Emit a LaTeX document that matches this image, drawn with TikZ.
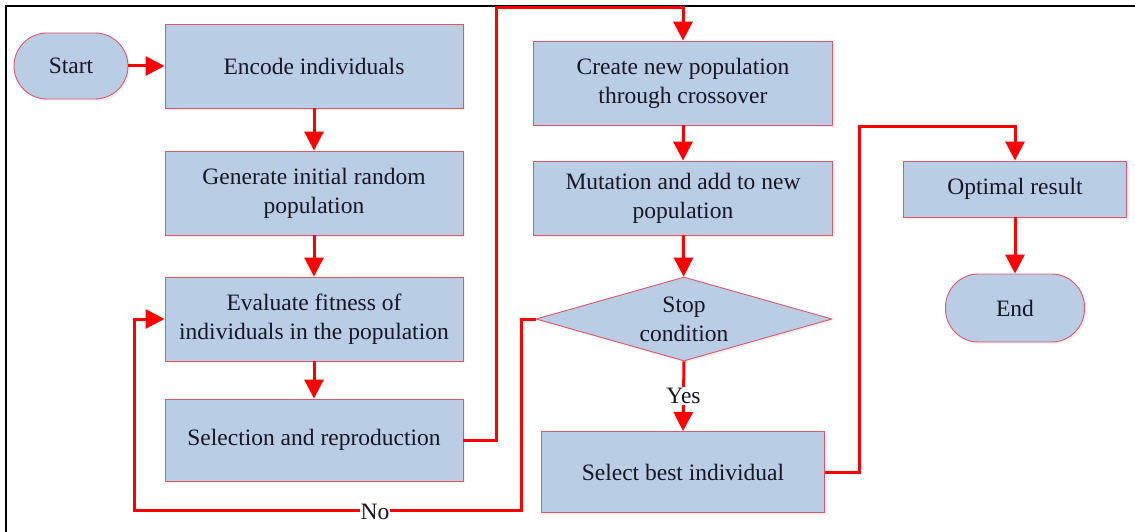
\documentclass[tikz,border=0pt]{standalone}
\usepackage{fontspec}
\setmainfont{Liberation Serif}
\usetikzlibrary{shapes.geometric,arrows.meta,shadows}

\definecolor{boxfill}{RGB}{185,205,229}
\definecolor{boxline}{RGB}{224,86,104}
\definecolor{flow}{RGB}{255,0,0}
\definecolor{ink}{RGB}{22,22,36}

\tikzset{
  base/.style={fill=boxfill, draw=boxline, line width=0.9pt, text=ink,
    align=center, inner sep=0pt,
    font=\fontsize{23.5}{29}\selectfont,
    drop shadow={opacity=0.12, shadow xshift=2pt, shadow yshift=-2pt}},
  procbox/.style={base, rectangle},
  termbox/.style={base, rectangle, rounded corners=33pt},
  decbox/.style={base, diamond, aspect=3.5},
  arr/.style={draw=flow, line width=3pt,
    -{Triangle[length=19pt,width=19pt]}},
  lbl/.style={fill=white, inner sep=1pt, text=ink,
    font=\fontsize{23.5}{29}\selectfont},
}

\begin{document}
\begin{tikzpicture}[x=1pt,y=-1pt]
  \useasboundingbox (0,0) rectangle (1135,532);
  % frame edges
  \draw[line width=1.4pt, black] (6,532) -- (6,6) -- (1135,6);

  % nodes
  \node[termbox, minimum width=114pt, minimum height=66pt] (start) at (71,66) {Start};
  \node[procbox, minimum width=298pt, minimum height=84pt] (enc) at (314,66) {Encode individuals};
  \node[procbox, minimum width=298pt, minimum height=84pt] (gen) at (314,193) {Generate initial random\\population};
  \node[procbox, minimum width=298pt, minimum height=84pt] (eva) at (314,319) {Evaluate fitness of\\individuals in the population};
  \node[procbox, minimum width=298pt, minimum height=82pt] (sel) at (314,440) {Selection and reproduction};
  \node[procbox, minimum width=299pt, minimum height=84pt] (cre) at (683,83) {Create new population\\through crossover};
  \node[procbox, minimum width=299pt, minimum height=74pt] (mut) at (683,198) {Mutation and add to new\\population};
  \node[decbox, minimum width=296pt, minimum height=84pt] (dia) at (684,319) {Stop\\condition};
  \node[procbox, minimum width=283pt, minimum height=81pt] (best) at (683,472) {Select best individual};
  \node[procbox, minimum width=223pt, minimum height=56pt] (opt) at (1015,189) {Optimal result};
  \node[termbox, minimum width=139pt, minimum height=68pt] (fin) at (1015,308) {End};

  % bend points
  \coordinate (t1) at (496,8);
  \coordinate (n1) at (521,510);
  \coordinate (n2) at (134,319);
  \coordinate (o1) at (859,127);

  % connectors
  \draw[arr] (start) -- (enc);
  \draw[arr] (enc) -- (gen);
  \draw[arr] (gen) -- (eva);
  \draw[arr] (eva) -- (sel);
  \draw[arr] (sel.east) -| (t1) -| (cre.north);
  \draw[arr] (cre) -- (mut);
  \draw[arr] (mut) -- (dia);
  \draw[arr] (dia.south) -- node[lbl] (yes) {Yes} (best.north);
  \draw[arr] (dia.west) -| (n1) -| (n2) -- (eva.west);
  \node[lbl] (no) at (375,512) {No};
  \draw[arr] (best.east) -| (o1) -| (opt.north);
  \draw[arr] (opt) -- (fin);
\end{tikzpicture}
\end{document}
